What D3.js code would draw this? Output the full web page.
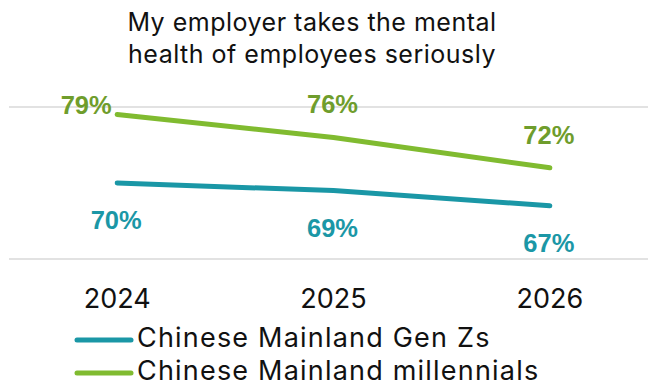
<!DOCTYPE html>
<html>
<head>
<meta charset="utf-8">
<script src="https://cdn.jsdelivr.net/npm/d3@7/dist/d3.min.js"></script>
<style>
  html, body { margin: 0; padding: 0; background: #fff; }
  svg { display: block; }
</style>
</head>
<body>
<div id="chart"></div>
<script>
// Survey data: share agreeing that their employer takes employee mental health seriously
const years = ["2024", "2025", "2026"];
const genZ = [70, 69, 67];
const millennials = [79, 76, 72];
const seriesNames = ["Chinese Mainland Gen Zs", "Chinese Mainland millennials"];
const yTicks = [60, 80];
const titleLines = ["My employer takes the mental", "health of employees seriously"];

const W = 648, H = 386;
const textFont = "Inter, 'Noto Sans', sans-serif";
const labelFont = "'Liberation Sans', Arial, sans-serif";

const series = [
  { name: seriesNames[0], values: genZ, line: "#1a97a6", label: "#1b97a6", place: "below" },
  { name: seriesNames[1], values: millennials, line: "#80bb30", label: "#6f9d2c", place: "above" }
];

const svg = d3.select("#chart").append("svg")
  .attr("width", W).attr("height", H);

const x = d3.scaleBand().domain(years).range([9, 658]).padding(0);
const cx = d => x(d) + x.bandwidth() / 2;
const y = d3.scaleLinear().domain([60, 80]).range([259, 107]);

// Title
svg.append("g").selectAll("text").data(titleLines).join("text")
  .attr("x", 312)
  .attr("y", (d, i) => 31 + i * 32)
  .attr("text-anchor", "middle")
  .attr("font-family", textFont)
  .attr("font-size", 25)
  .attr("letter-spacing", 0.5)
  .attr("fill", "#111")
  .text(d => d);

// Horizontal gridlines
svg.append("g").selectAll("line").data(yTicks).join("line")
  .attr("x1", 9).attr("x2", W)
  .attr("y1", d => y(d)).attr("y2", d => y(d))
  .attr("stroke", "#d9d9d9").attr("stroke-width", 1.5);

// Lines
const line = d3.line().x((d, i) => cx(years[i])).y(d => y(d));
svg.append("g").selectAll("path").data(series).join("path")
  .attr("d", s => line(s.values))
  .attr("fill", "none")
  .attr("stroke", s => s.line)
  .attr("stroke-width", 5)
  .attr("stroke-linecap", "round")
  .attr("stroke-linejoin", "round");

// Value labels: millennials above the line, Gen Zs below; first millennial label tucked to the left
const nudge = { "1-0": [-30, 23] };
const labelData = [];
series.forEach((s, si) => s.values.forEach((v, i) => {
  const n = nudge[si + "-" + i] || [0, 0];
  const base = s.place === "above" ? -24 : 46;
  labelData.push({ v, color: s.label, x: cx(years[i]) + n[0] - 1, y: y(v) + base + n[1] });
}));
svg.append("g").selectAll("text").data(labelData).join("text")
  .attr("x", d => d.x)
  .attr("y", d => d.y)
  .attr("text-anchor", "middle")
  .attr("font-family", labelFont)
  .attr("font-weight", "bold")
  .attr("font-size", 25.5)
  .attr("fill", d => d.color)
  .text(d => d.v + "%");

// Category axis labels
const xAxis = svg.append("g")
  .attr("transform", "translate(0,308)")
  .call(d3.axisBottom(x).tickSize(0).tickPadding(0));
xAxis.select(".domain").remove();
xAxis.selectAll("text")
  .attr("dy", 0)
  .attr("font-family", textFont)
  .attr("font-size", 27)
  .attr("fill", "#111");

// Legend
const legend = svg.append("g").selectAll("g").data(series).join("g")
  .attr("transform", (d, i) => `translate(0,${347 + i * 33})`);
legend.append("line")
  .attr("x1", 77).attr("x2", 131)
  .attr("y1", -7).attr("y2", -7)
  .attr("stroke", d => d.line)
  .attr("stroke-width", 5)
  .attr("stroke-linecap", "round");
legend.append("text")
  .attr("x", 137).attr("y", 0)
  .attr("font-family", textFont)
  .attr("font-size", 27)
  .attr("letter-spacing", 1.2)
  .attr("fill", "#111")
  .text(d => d.name);
</script>
</body>
</html>
